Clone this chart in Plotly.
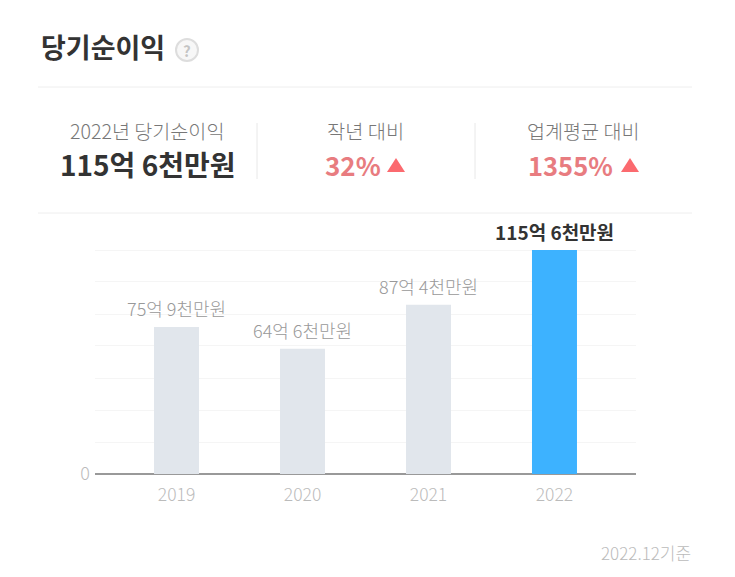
import plotly.graph_objects as go

W = 735
H = 577
FONT = "Noto Sans CJK KR"

years = ["2019", "2020", "2021", "2022"]
profit = [7590, 6460, 8740, 11560]
bar_labels = ["75억 9천만원", "64억 6천만원", "87억 4천만원", "115억 6천만원"]
bar_colors = ["#e1e6ec", "#e1e6ec", "#e1e6ec", "#3db2ff"]
grid_values = [0, 1651, 3303, 4954, 6606, 8257, 9909, 11560]
grid_labels = ["0", "", "", "", "", "", "", ""]


# everything outside the axes is placed in page pixels
def px_x(x):
    return x / W


def px_y(y):
    return 1 - y / H


def label(x, y, text, size, color, weight=400, anchor="center"):
    fig.add_annotation(xref="paper", yref="paper", x=px_x(x), y=px_y(y), text=text,
                       showarrow=False, xanchor=anchor, yanchor="middle",
                       font=dict(family=FONT, size=size, color=color, weight=weight))


def line(x0, y0, x1, y1, color):
    fig.add_shape(type="line", xref="paper", yref="paper", x0=px_x(x0), y0=px_y(y0),
                  x1=px_x(x1), y1=px_y(y1), line=dict(color=color, width=1), layer="below")


def triangle(x0, x1, top, bottom):
    mid = (x0 + x1) / 2
    path = f"M {px_x(x0)} {px_y(bottom)} L {px_x(mid)} {px_y(top)} L {px_x(x1)} {px_y(bottom)} Z"
    fig.add_shape(type="path", xref="paper", yref="paper", path=path,
                  fillcolor="#fb6a6f", line=dict(width=0))


fig = go.Figure(go.Bar(x=years, y=profit, marker=dict(color=bar_colors, line=dict(width=0)),
                       width=45 / 126, hoverinfo="skip", cliponaxis=False))

# header
label(38.5, 47, "당기순이익", 27, "#333333", weight=700, anchor="left")
fig.add_shape(type="circle", xref="paper", yref="paper", x0=px_x(176), y0=px_y(61), x1=px_x(198), y1=px_y(39),
              fillcolor="#f7f7f7", line=dict(color="#dddddd", width=2))
label(187, 50, "?", 15, "#c4c4c4", weight=700)

line(38, 87, 692, 87, "#eeeeee")
line(38, 213, 692, 213, "#eeeeee")
line(257, 123, 257, 179, "#e8e8e8")
line(475, 123, 475, 179, "#e8e8e8")

# summary row
label(147, 131, "2022년 당기순이익", 19.6, "#777777", weight=300)
label(147, 164, "115억 6천만원", 28, "#333333", weight=700)
label(365, 131, "작년 대비", 19.8, "#777777", weight=300)
label(353, 164, "32%", 26, "#e87c80", weight=700)
triangle(387, 405, 158, 172)
label(583.5, 131, "업계평균 대비", 19.6, "#777777", weight=300)
label(570.5, 164, "1355%", 25.5, "#e87c80", weight=700)
triangle(621, 639, 158, 172)

label(693, 552, "2022.12기준", 17, "#bbbbbb", weight=300, anchor="right")

# value labels sit just above their bars (annotations on a category axis take the position number)
for i, (value, text) in enumerate(zip(profit, bar_labels)):
    latest = i == len(profit) - 1
    fig.add_annotation(xref="x", yref="y", x=i, y=value, text=text, showarrow=False,
                       yanchor="bottom", yshift=3 if latest else 4,
                       font=dict(family=FONT, size=19 if latest else 18, color="#333333" if latest else "#999999",
                                 weight=700 if latest else 300))

# the y axis runs a little past the top bar, otherwise plotly drops the top gridline
fig.update_layout(
    width=W, height=H, margin=dict(l=0, r=0, t=0, b=0),
    paper_bgcolor="white", plot_bgcolor="white", showlegend=False,
    font=dict(family=FONT),
    xaxis=dict(domain=[px_x(95), px_x(636)], range=[-0.647, 3.647], type="category", automargin=False,
               showgrid=False, ticks="", showline=False, zeroline=False, ticklabelstandoff=8,
               tickfont=dict(size=17.5, color="#bbbbbb", weight=300)),
    yaxis=dict(domain=[px_y(474), px_y(240)], range=[0, 12076], tickmode="array", automargin=False,
               tickvals=grid_values, ticktext=grid_labels, showgrid=True, gridcolor="#f5f5f5",
               gridwidth=1, zeroline=True, zerolinecolor="#999999", zerolinewidth=2,
               showline=False, ticklabelstandoff=4, tickfont=dict(size=18, color="#bbbbbb", weight=300)),
)

fig.write_html("out.html", config={"displayModeBar": False},
               post_script="document.body.style.margin = '0';")
